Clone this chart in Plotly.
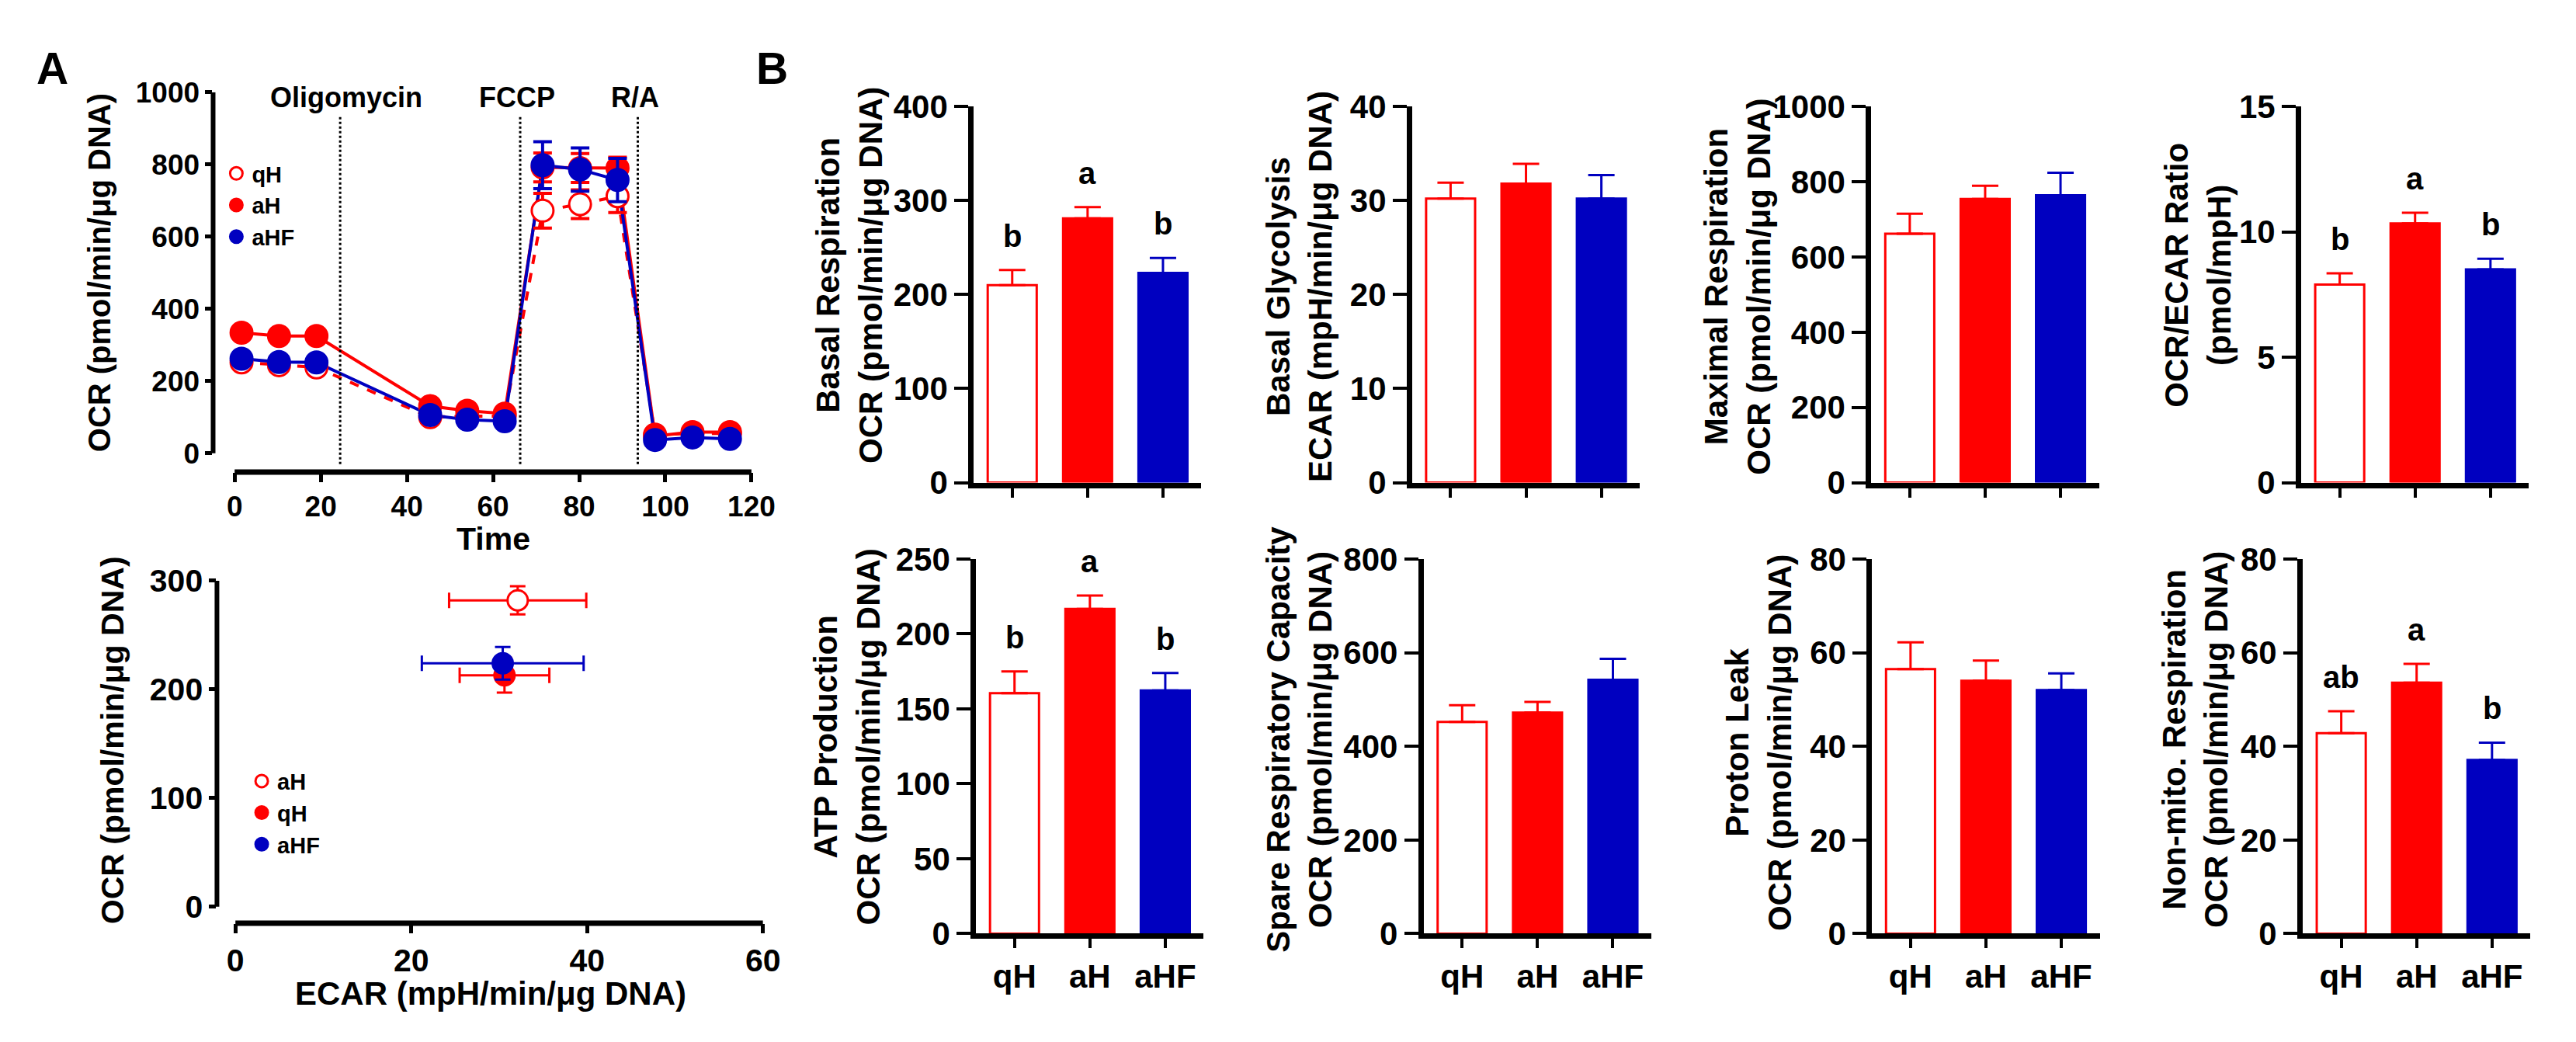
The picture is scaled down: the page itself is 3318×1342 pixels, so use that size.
import plotly.graph_objects as go

W, H = 3318, 1342
FONT = 'Liberation Sans, Arial, sans-serif'
RED = '#FF0000'
BLUE = '#0000C0'

groups = ['qH', 'aH', 'aHF']
fill_colors = ['white', RED, BLUE]
line_colors = [RED, RED, BLUE]

# ---- panel A top: OCR time course
time_min = [1.6, 10.3, 19.0, 45.4, 54.0, 62.7, 71.5, 80.2, 88.9, 97.6, 106.3, 115.0]
ocr_qH = [252, 244, 238, 100, 103, 103, 672, 690, 712, 52, 55, 55]
ocr_qH_err = [10, 9, 9, 6, 6, 6, 48, 40, 45, 5, 5, 5]
ocr_aH = [334, 325, 325, 131, 118, 110, 792, 790, 790, 48, 59, 59]
ocr_aH_err = [9, 9, 8, 8, 7, 7, 40, 40, 30, 5, 5, 5]
ocr_aHF = [262, 253, 252, 106, 93, 89, 798, 786, 757, 37, 44, 40]
ocr_aHF_err = [10, 9, 9, 8, 7, 7, 65, 60, 60, 5, 5, 5]
injections = ['Oligomycin', 'FCCP', 'R/A']
inject_time = [24.5, 66.3, 93.6]
label_time = [25.9, 65.5, 93.0]

# ---- panel A bottom: OCR vs ECAR (legend labels as printed)
energy_names = ['aH', 'qH', 'aHF']
ecar_mean = [32.1, 30.6, 30.4]
ecar_err = [7.8, 5.1, 9.2]
ocr_mean = [282, 213, 224]
ocr_err = [13, 16, 15]

# ---- panel B: bar charts (mean, SEM, letters)
basal_resp = [210, 281, 223]
basal_resp_sem = [16, 12, 16]
basal_resp_letters = ['b', 'a', 'b']
basal_glyc = [30.2, 31.8, 30.2]
basal_glyc_sem = [1.7, 2.1, 2.5]
max_resp = [662, 754, 764]
max_resp_sem = [53, 35, 60]
ocr_ecar = [7.9, 10.34, 8.5]
ocr_ecar_sem = [0.45, 0.42, 0.43]
ocr_ecar_letters = ['b', 'a', 'b']
atp_prod = [160.5, 216.7, 162.3]
atp_prod_sem = [14.5, 9.0, 11.7]
atp_prod_letters = ['b', 'a', 'b']
spare_cap = [452, 472, 542]
spare_cap_sem = [36, 23, 45]
proton_leak = [56.5, 54.0, 52.0]
proton_leak_sem = [5.7, 4.3, 3.6]
non_mito = [42.8, 53.6, 37.1]
non_mito_sem = [4.7, 4.0, 3.7]
non_mito_letters = ['ab', 'a', 'b']


def fx(p):
    return p / W


def fy(p):
    return 1 - p / H


def label(px, py, text, size, angle=0):
    # free text placed in page pixels, centred on the point
    return dict(xref='paper', yref='paper', x=fx(px), y=fy(py), text=text,
                xanchor='center', yanchor='middle', textangle=angle,
                showarrow=False, font=dict(size=size))


fig = go.Figure()
annotations = []
shapes = []

# ---------- A top
series = [('qH', ocr_qH, ocr_qH_err, 'dash'),
          ('aH', ocr_aH, ocr_aH_err, 'solid'),
          ('aHF', ocr_aHF, ocr_aHF_err, 'solid')]
for k, (name, vals, errs, dash) in enumerate(series):
    fig.add_trace(go.Scatter(x=time_min, y=vals, mode='lines',
                             line=dict(color=line_colors[k], width=4, dash=dash),
                             showlegend=False, xaxis='x', yaxis='y'))
for k, (name, vals, errs, dash) in enumerate(series):
    fig.add_trace(go.Scatter(
        x=time_min, y=vals, mode='markers', name=name, legend='legend',
        marker=dict(size=28, color=fill_colors[k], line=dict(color=line_colors[k], width=3)),
        error_y=dict(type='data', array=errs, color=line_colors[k], thickness=4, width=12),
        xaxis='x', yaxis='y'))

for t, lab, lt in zip(inject_time, injections, label_time):
    shapes.append(dict(type='line', xref='x', yref='y', x0=t, x1=t, y0=-30, y1=935,
                       line=dict(color='black', width=3, dash='dot')))
    annotations.append(dict(xref='x', yref='y', x=lt, y=985, text=lab, showarrow=False,
                            xanchor='center', yanchor='middle', font=dict(size=36)))

# ---------- A bottom
for k, name in enumerate(energy_names):
    fig.add_trace(go.Scatter(
        x=[ecar_mean[k]], y=[ocr_mean[k]], mode='markers', name=name, legend='legend2',
        marker=dict(size=26, color=fill_colors[k], line=dict(color=line_colors[k], width=3)),
        error_x=dict(type='data', array=[ecar_err[k]], color=line_colors[k], thickness=3, width=10),
        error_y=dict(type='data', array=[ocr_err[k]], color=line_colors[k], thickness=3, width=10),
        xaxis='x2', yaxis='y2'))

# ---------- B bars
bar_panels = [
    # axis index, means, sems, letters, ymax, dtick, axis x px, row, title, title centre px
    (3, basal_resp, basal_resp_sem, basal_resp_letters, 400, 100, 1258, 0,
     'Basal Respiration<br>OCR (pmol/min/μg DNA)', 1097, 335),
    (4, basal_glyc, basal_glyc_sem, None, 40, 10, 1828, 0,
     'Basal Glycolysis<br>ECAR (mpH/min/μg DNA)', 1681, 350),
    (5, max_resp, max_resp_sem, None, 1000, 200, 2425, 0,
     'Maximal Respiration<br>OCR (pmol/min/μg DNA)', 2251, 350),
    (6, ocr_ecar, ocr_ecar_sem, ocr_ecar_letters, 15, 5, 2984, 0,
     'OCR/ECAR Ratio<br>(pmol/mpH)', 2850, 335),
    (7, atp_prod, atp_prod_sem, atp_prod_letters, 250, 50, 1261, 1,
     'ATP Production<br>OCR (pmol/min/μg DNA)', 1093, 951),
    (8, spare_cap, spare_cap_sem, None, 800, 200, 1843, 1,
     'Spare Respiratory Capacity<br>OCR (pmol/min/μg DNA)', 1681, 955),
    (9, proton_leak, proton_leak_sem, None, 80, 20, 2426, 1,
     'Proton Leak<br>OCR (pmol/min/μg DNA)', 2279, 959),
    (10, non_mito, non_mito_sem, non_mito_letters, 80, 20, 2986, 1,
     'Non-mito. Respiration<br>OCR (pmol/min/μg DNA)', 2846, 955),
]

row_px = [(110, 612), (714, 1214)]

layout_axes = {}
tickfont_bar = dict(size=42, color='black')

for (i, means, sems, letters, ymax, dtick, ax_px, row, title, tx, ty) in bar_panels:
    for k, g in enumerate(groups):
        fig.add_trace(go.Bar(
            x=[g], y=[means[k]], width=0.65, showlegend=False,
            marker=dict(color=fill_colors[k], line=dict(color=line_colors[k], width=3)),
            error_y=dict(type='data', array=[sems[k]], arrayminus=[0], symmetric=False,
                         color=line_colors[k], thickness=3, width=17),
            xaxis=f'x{i}', yaxis=f'y{i}'))
        if letters:
            annotations.append(dict(xref=f'x{i}', yref=f'y{i}', x=g, y=means[k] + sems[k],
                                    yshift=44, text=letters[k], showarrow=False,
                                    xanchor='center', yanchor='middle',
                                    font=dict(size=40)))
    top, bottom = row_px[row]
    layout_axes[f'xaxis{i}'] = dict(
        domain=[fx(ax_px), fx(ax_px + 296)], anchor=f'y{i}', type='category',
        categoryorder='array', categoryarray=groups, range=[-0.51, 2.51],
        showline=True, linewidth=7, linecolor='black', ticks='outside', ticklen=12,
        tickwidth=4, tickcolor='black', showgrid=False, zeroline=False,
        showticklabels=(row == 1), tickfont=tickfont_bar)
    layout_axes[f'yaxis{i}'] = dict(
        domain=[fy(bottom), fy(top)], anchor=f'x{i}', range=[0, ymax],
        tickvals=list(range(0, ymax + 1, dtick)),
        showline=True, linewidth=7, linecolor='black', ticks='outside', ticklen=18,
        tickwidth=4, tickcolor='black', showgrid=False, zeroline=False,
        tickfont=tickfont_bar)
    annotations.append(label(tx, ty, title, 42, -90))

# ---------- A axes (detached prism-style lines drawn as shapes)
time_ticks = list(range(0, 121, 20))
ocr_ticks = list(range(0, 1001, 200))
ecar_ticks = list(range(0, 61, 20))
ocr2_ticks = list(range(0, 301, 100))

layout_axes['xaxis'] = dict(domain=[fx(269), fx(969)], anchor='y', range=[-5, 120],
                            tickvals=time_ticks, ticks='outside', ticklen=12, tickwidth=5,
                            tickcolor='black', showline=False, showgrid=False, zeroline=False,
                            tickfont=dict(size=37))
layout_axes['yaxis'] = dict(domain=[fy(598), fy(91)], anchor='x', range=[-52, 1000],
                            tickvals=ocr_ticks, ticks='outside', ticklen=9, tickwidth=5,
                            tickcolor='black', showline=False, showgrid=False, zeroline=False,
                            tickfont=dict(size=37))
layout_axes['xaxis2'] = dict(domain=[fx(274), fx(984)], anchor='y2', range=[-2.1, 60],
                             tickvals=ecar_ticks, ticks='outside', ticklen=12, tickwidth=5,
                             tickcolor='black', showline=False, showgrid=False, zeroline=False,
                             tickfont=dict(size=41))
layout_axes['yaxis2'] = dict(domain=[fy(1200), fy(743)], anchor='x2', range=[-15.2, 300],
                             tickvals=ocr2_ticks, ticks='outside', ticklen=9, tickwidth=5,
                             tickcolor='black', showline=False, showgrid=False, zeroline=False,
                             tickfont=dict(size=41))

for xa, ya, xt, yt in [('x', 'y', time_ticks, ocr_ticks), ('x2', 'y2', ecar_ticks, ocr2_ticks)]:
    shapes.append(dict(type='line', xref=f'{xa} domain', yref=ya, x0=0, x1=0,
                       y0=yt[0], y1=yt[-1], line=dict(color='black', width=6)))
    shapes.append(dict(type='line', xref=xa, yref=f'{ya} domain', y0=0, y1=0,
                       x0=xt[0], x1=xt[-1], line=dict(color='black', width=7)))

# titles for panel A and panel letters
annotations += [
    label(122, 332, 'OCR (pmol/min/μg DNA)', 40, -90),
    label(633, 687, 'Time', 41),
    label(138, 956, 'OCR (pmol/min/μg DNA)', 41, -90),
    label(630, 1294, 'ECAR (mpH/min/μg DNA)', 42),
    label(60, 59, 'A', 57),
    label(996, 59, 'B', 57),
]

fig.update_layout(
    width=W, height=H,
    margin=dict(l=0, r=0, t=0, b=0),
    plot_bgcolor='white', paper_bgcolor='white',
    font=dict(family=FONT, color='black', weight='bold'),
    barmode='overlay',
    legend=dict(x=fx(279), y=fy(173), xanchor='left', yanchor='top',
                font=dict(size=29), bgcolor='rgba(0,0,0,0)', itemwidth=30,
                tracegroupgap=0),
    legend2=dict(x=fx(312), y=fy(984), xanchor='left', yanchor='top',
                 font=dict(size=29), bgcolor='rgba(0,0,0,0)', itemwidth=30,
                 tracegroupgap=0),
    annotations=annotations,
    shapes=shapes,
    **layout_axes,
)

fig.write_html("out.html")
